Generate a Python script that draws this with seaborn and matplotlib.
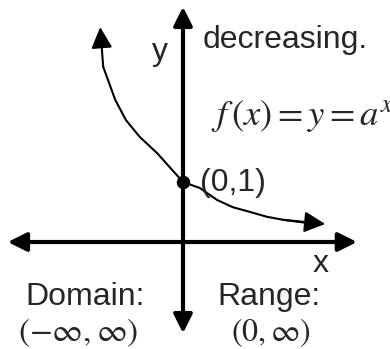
import numpy as np
import pandas as pd
import seaborn as sns
import matplotlib.pyplot as plt

# decreasing exponential curve (math units, origin at axes crossing)
curve_x = [-1.38, -1.33, -1.13, -0.95, -0.72, -0.43, -0.18, 0.0, 0.28, 0.57, 0.83, 1.12, 1.40, 1.67, 2.05, 2.37]
curve_y = [3.58, 2.92, 2.37, 2.03, 1.75, 1.48, 1.20, 1.0, 0.90, 0.70, 0.58, 0.50, 0.42, 0.37, 0.32, 0.30]

# intercept point
point_x = [0.0]
point_y = [1.0]

# axis extents
x_axis_ends = [-2.92, 2.90]
y_axis_ends = [-1.52, 3.92]

sns.set_style("white")
plt.rcParams['font.family'] = ['Liberation Sans', 'DejaVu Sans']
plt.rcParams['mathtext.fontset'] = 'stix'

fig = plt.figure(figsize=(3.9, 3.49), dpi=100)
ax = fig.add_axes([0, 0, 1, 1])
ax.set_xlim(-3.05, 3.45)
ax.set_ylim(-1.783, 4.033)
ax.axis('off')

# axes with arrows at both ends
ax_arrow = dict(arrowstyle='<|-|>', lw=3, color='black', mutation_scale=28, shrinkA=0, shrinkB=0)
ax.annotate('', xy=(x_axis_ends[1], 0), xytext=(x_axis_ends[0], 0), arrowprops=ax_arrow)
ax.annotate('', xy=(0, y_axis_ends[1]), xytext=(0, y_axis_ends[0]), arrowprops=ax_arrow)

# the curve
df = pd.DataFrame({'x': curve_x[1:-1], 'y': curve_y[1:-1]})
sns.lineplot(data=df, x='x', y='y', sort=False, color='black', lw=1.5, ax=ax)
cv_arrow = dict(arrowstyle='-|>', lw=1.5, color='black', mutation_scale=32, shrinkA=0, shrinkB=0)
ax.annotate('', xy=(curve_x[0], curve_y[0]), xytext=(curve_x[1], curve_y[1]), arrowprops=cv_arrow)
ax.annotate('', xy=(curve_x[-1], curve_y[-1]), xytext=(curve_x[-3], curve_y[-3]), arrowprops=cv_arrow)

sns.scatterplot(x=point_x, y=point_y, color='black', s=80, edgecolor='black', zorder=5, ax=ax)

fs = 23
ax.text(0.32, 3.23, 'decreasing.', fontsize=fs, ha='left', va='baseline')
ax.text(-0.38, 3.03, 'y', fontsize=fs, ha='center', va='baseline')
ax.text(0.28, 0.85, '(0,1)', fontsize=fs, ha='left', va='baseline')
ax.text(2.30, -0.50, 'x', fontsize=fs, ha='center', va='baseline')
ax.text(-2.63, -1.05, 'Domain:', fontsize=fs, ha='left', va='baseline')
ax.text(0.58, -1.05, 'Range:', fontsize=fs, ha='left', va='baseline')
ax.text(0.47, 1.95, r'$f\,(x) = y = a^x$', fontsize=26.5, ha='left', va='baseline')
ax.text(-1.75, -1.52, r'$(-\infty,\infty)$', fontsize=24, ha='center', va='center')
ax.text(1.47, -1.52, r'$(0,\infty)$', fontsize=23, ha='center', va='center')

fig.savefig('out.png', dpi=100)
